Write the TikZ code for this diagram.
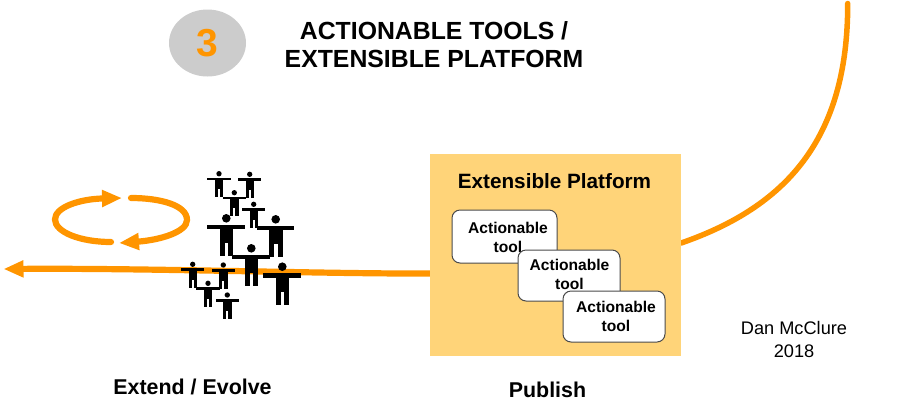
\documentclass[tikz,border=0pt]{standalone}
\usepackage{fontspec}
\setmainfont{Liberation Sans}
\usetikzlibrary{arrows.meta,shapes.geometric}
\definecolor{flow}{HTML}{FF9500}
\definecolor{platformfill}{HTML}{FFD479}
\definecolor{badge}{HTML}{CCCCCC}
\definecolor{boxedge}{HTML}{4A4A4A}
\tikzset{
  x=1pt,y=-1pt,
  flowline/.style={draw=flow,line width=5.5pt,line cap=round},
  thickflow/.style={flowline,line width=6.2pt},
  flowtip/.style={-{Triangle[length=20pt,width=16pt]}},
  toolbox/.style={draw=boxedge,line width=1pt,fill=white,rounded corners=8pt,inner sep=0pt},
  toollabel/.style={align=center,inner sep=0pt,font=\fontsize{15.6}{19}\selectfont\bfseries},
  heading/.style={align=center,inner sep=0pt,font=\fontsize{24.8}{28}\selectfont\bfseries},
  stage/.style={inner sep=0pt,font=\fontsize{21.4}{24}\selectfont\bfseries},
  pics/person/.style={code={
    \fill[black] (0,0) circle (4.3);
    \fill[black] (-18.9,6.5) rectangle (18.7,10.9);
    \fill[black] (-6.5,6.5) rectangle (6.9,25);
    \fill[black] (-6.5,25) rectangle (-1.5,37.9);
    \fill[black] (1.9,25) rectangle (6.9,37.9);
  }}
}
\begin{document}
\begin{tikzpicture}
\useasboundingbox (0,0) rectangle (904,408);
% title
\node[ellipse,fill=badge,minimum width=77pt,minimum height=67pt,inner sep=0pt] (badge) at (207.5,43) {};
\node[inner sep=0pt,text=flow,font=\fontsize{39}{39}\selectfont\bfseries] (num) at (207.5,43) {3};
\node[heading] (title) at (434,44.5) {ACTIONABLE TOOLS /\\EXTENSIBLE PLATFORM};
% platform outline first, so that the flow lines can tuck under its fill
\node[minimum width=251pt,minimum height=202pt,inner sep=0pt] (platform) at (555.5,255) {};
% flow lines
\coordinate (leftend) at (3.5,269);
\coordinate (topend) at (847.7,3.5);
\draw[thickflow,flowtip] (platform.west |- 0,273.5) .. controls (330,274) and (150,268) .. (leftend);
\draw[flowline] (platform.east |- 0,243) .. controls (785,207) and (848,140) .. (topend);
\fill[platformfill] (platform.south west) rectangle (platform.north east);
\node[inner sep=0pt,font=\fontsize{20.7}{24}\selectfont\bfseries] (ptitle) at (554.5,181) {Extensible Platform};
% cycle
\coordinate (a1) at (111,242);
\coordinate (a2) at (122,198);
\coordinate (b1) at (131,198);
\coordinate (b2) at (119,243);
\draw[thickflow,flowtip] (a1) .. controls (80,242) and (55,232) .. (55,219.5) .. controls (55,207) and (80,199) .. (a2);
\draw[thickflow,flowtip] (b1) .. controls (160,198) and (187,205) .. (187,220) .. controls (187,232) and (160,240) .. (b2);
% tools
\node[toolbox,minimum width=105pt,minimum height=53pt] (t1) at (504.5,236.5) {};
\node[toollabel] (l1) at (508,237.5) {Actionable\\tool};
\node[toolbox,minimum width=102pt,minimum height=51pt] (t2) at (569,275.5) {};
\node[toollabel] (l2) at (569.5,274.5) {Actionable\\tool};
\node[toolbox,minimum width=102pt,minimum height=51pt] (t3) at (614,316.5) {};
\node[toollabel] (l3) at (616,316.5) {Actionable\\tool};
% crowd
\foreach \px/\py in {226.3/218.3,275.7/219.3,251.3/248.3,282.3/266.7}
  \pic at (\px,\py) {person};
\foreach \px/\py in {219/173.7,249.7/174.3,234.3/192.7,253.7/204.3,192.7/264.3,223.3/265,208/283.3,227.3/295}
  \pic[scale=0.62] at (\px,\py) {person};
% labels
\node[stage] (extend) at (192.5,387) {Extend / Evolve};
\node[stage] (publish) at (547.5,389.5) {Publish};
\node[align=center,inner sep=0pt,font=\fontsize{18.2}{22.5}\selectfont] (credit) at (794,339.5) {Dan McClure\\2018};
\end{tikzpicture}
\end{document}
